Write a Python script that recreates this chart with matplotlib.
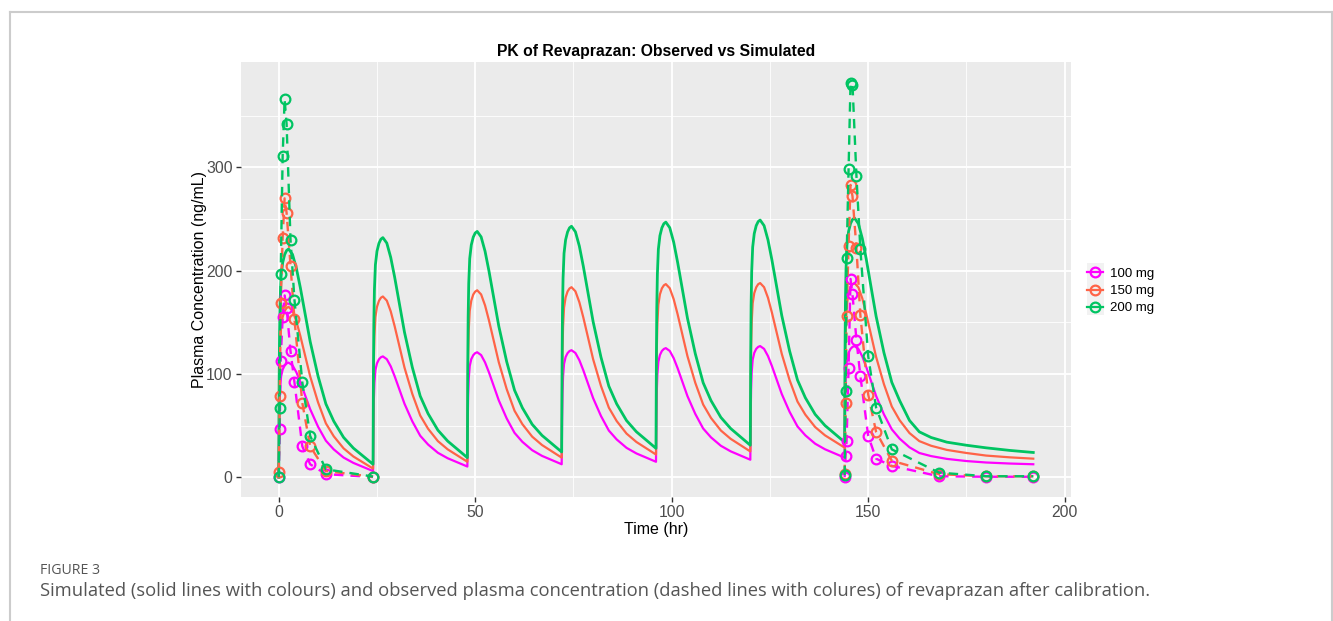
import numpy as np
import matplotlib
matplotlib.use("Agg")
import matplotlib.pyplot as plt
from matplotlib.lines import Line2D
from matplotlib.patches import Rectangle

# ---------- data ----------
doses = ["100 mg", "150 mg", "200 mg"]
colors = ["#FF00FF", "#FF6347", "#00C462"]

# simulated concentration (ng/mL): one dose every 24 h, sampled at these
# hours after each dose, plus the wash-out after the last dose
dose_times = [0, 24, 48, 72, 96, 120, 144]
t_after_dose = [0, 0.1, 0.2, 0.35, 0.6, 1, 1.5, 2, 2.5, 3.5, 4.5, 5.5,
                6.5, 8, 10, 12, 14, 16.5, 19, 22]
t_washout = [170, 175, 180, 186, 192]
t_sim = [d + o for d in dose_times for o in t_after_dose] + t_washout

sim_100 = [0, 44.4, 68.8, 85.5, 97.7, 104.3, 108.2, 110.2, 111,
           108.4, 101.6, 92.1, 81.6, 65.9, 49, 35.4, 27, 19.1, 13.9, 9.2,
           6, 50.4, 74.8, 91.5, 103.7, 110.3, 114.2, 116.2, 117,
           114.3, 107.4, 97.8, 87.2, 71.2, 54.1, 40.2, 31.7, 23.7, 18.4, 13.6,
           10.4, 54.6, 79, 95.6, 107.7, 114.4, 118.2, 120.2, 121,
           118.3, 111.2, 101.5, 90.6, 74.4, 57, 43, 34.3, 26.2, 20.7, 15.9,
           12.6, 56.8, 81, 97.6, 109.8, 116.4, 120.2, 122.2, 123,
           120.3, 113.3, 103.6, 92.8, 76.6, 59.3, 45.2, 36.6, 28.5, 23.1, 18.2,
           15, 59, 83.2, 99.7, 111.8, 118.4, 122.3, 124.2, 125,
           122.3, 115.3, 105.6, 94.8, 78.6, 61.3, 47.2, 38.6, 30.5, 25.1, 20.2,
           17, 61, 85.2, 101.7, 113.8, 120.4, 124.3, 126.2, 127,
           124.3, 117.3, 107.6, 96.8, 80.6, 63.3, 49.2, 40.6, 32.5, 27.1, 22.2,
           19, 62.2, 86, 102.2, 114, 120.5, 124.3, 126.2, 127,
           124.2, 116.9, 106.8, 95.6, 78.8, 60.9, 46.4, 37.4, 29, 23.5, 20.5,
           17.8, 15.7, 14.3, 13.3, 12.6]

sim_150 = [0, 66, 102.3, 127, 145.2, 155.1, 160.9, 163.8, 165,
           161.1, 150.9, 136.8, 121.2, 97.7, 72.6, 52.2, 39.7, 28, 20.1, 13.1,
           8.4, 75, 111.7, 136.7, 155, 165, 170.8, 173.8, 175,
           171, 160.6, 146.2, 130.2, 106.2, 80.6, 59.8, 47, 35, 27, 19.8,
           15, 81.4, 117.9, 142.8, 161.1, 171, 176.9, 179.8, 181,
           177, 166.4, 151.8, 135.6, 111.3, 85.4, 64.4, 51.4, 39.3, 31.2, 23.9,
           19, 85, 121.3, 146, 164.2, 174.1, 179.9, 182.8, 184,
           180, 169.4, 154.8, 138.6, 114.3, 88.4, 67.4, 54.4, 42.3, 34.2, 26.9,
           22, 88, 124.3, 149, 167.2, 177.1, 182.9, 185.8, 187,
           183, 172.4, 157.8, 141.6, 117.3, 91.4, 70.4, 57.4, 45.3, 37.2, 29.9,
           25, 90.2, 126.1, 150.5, 168.4, 178.2, 183.9, 186.9, 188,
           184, 173.7, 159.3, 143.4, 119.5, 94, 73.3, 60.6, 48.6, 40.6, 33.5,
           28.7, 92.4, 127.5, 151.4, 168.9, 178.4, 184, 186.9, 188,
           183.9, 173.1, 158.1, 141.5, 116.6, 90.1, 68.5, 55.2, 42.8, 35, 30.5,
           26.5, 23.5, 21, 19.3, 18]

sim_200 = [0, 88.4, 137, 170, 194.5, 207.7, 215.5, 219.5, 221,
           215.8, 202.2, 183.5, 162.6, 131.4, 98, 71, 54.3, 38.6, 28.2, 18.9,
           12.6, 100.4, 148.6, 181.5, 205.7, 218.8, 226.5, 230.5, 232,
           226.7, 212.8, 193.7, 172.4, 140.4, 106.3, 78.6, 61.6, 45.6, 35, 25.4,
           19, 106.6, 154.8, 187.6, 211.7, 224.9, 232.5, 236.5, 238,
           232.7, 218.8, 199.6, 178.2, 146.2, 112, 84.3, 67.2, 51.2, 40.5, 30.9,
           24.5, 111.9, 160, 192.7, 216.8, 229.9, 237.5, 241.5, 243,
           237.6, 223.7, 204.3, 182.8, 150.6, 116.2, 88.2, 71, 54.9, 44.1, 34.5,
           28, 115.6, 163.8, 196.6, 220.7, 233.9, 241.5, 245.5, 247,
           241.6, 227.6, 208.1, 186.5, 154.1, 119.6, 91.5, 74.2, 58, 47.2, 37.5,
           31, 118.2, 166.2, 198.9, 222.8, 235.9, 243.6, 247.5, 249,
           243.6, 229.7, 210.3, 188.8, 156.6, 122.2, 94.2, 77, 60.9, 50.1, 40.5,
           34, 120.8, 168.5, 201.1, 225, 238, 245.6, 249.5, 251,
           245.5, 231.1, 211.2, 189.1, 156, 120.6, 91.9, 74.2, 55, 44, 38.5,
           34, 31, 28.5, 26, 24]

# observed concentration, day 1 and day 7
t_obs_d1 = [0, 0.25, 0.5, 1, 1.5, 2, 3, 4, 6, 8, 12, 24]
obs_100_d1 = [0, 47, 113, 155, 176, 164, 122, 92, 30, 12.6, 3, 0.3]
obs_150_d1 = [5, 78.7, 169, 232, 270, 256, 205, 153, 72, 30, 6, 0.5]
obs_200_d1 = [0, 67.5, 197, 311, 366, 342, 230, 172, 92, 40, 7.7, 0.7]

t_obs_d7 = [144, 144.25, 144.5, 145, 145.5, 146, 147, 148, 150, 152, 156, 168, 180, 192]
obs_100_d7 = [0, 20.6, 35, 106, 192, 177, 133, 98, 40, 18, 11, 1, 0.5, 0.5]
obs_150_d7 = [3, 72, 156, 224, 283, 272, 222, 157, 80, 44, 16, 3, 1, 1]
obs_200_d7 = [2, 83.6, 212, 298, 382, 380, 292, 221, 117, 67.5, 27, 4.5, 1, 1]

sims = [sim_100, sim_150, sim_200]
obs_d1 = [obs_100_d1, obs_150_d1, obs_200_d1]
obs_d7 = [obs_100_d7, obs_150_d7, obs_200_d7]

# ---------- figure ----------
plt.rcParams['font.family'] = ['Liberation Sans', 'DejaVu Sans']
W, H = 1333, 621
fig = plt.figure(figsize=(W / 100, H / 100), dpi=100)
fig.patch.set_facecolor('white')

# page frame around the figure
frame_kw = dict(color='#CCCCCC', lw=1.5, transform=fig.transFigure)
fig.add_artist(Line2D([9.5 / W, 9.5 / W], [0, 1 - 12 / H], **frame_kw))
fig.add_artist(Line2D([9.5 / W, 1331.5 / W], [1 - 12 / H, 1 - 12 / H], **frame_kw))
fig.add_artist(Line2D([1331.5 / W, 1331.5 / W], [0, 1 - 12 / H], **frame_kw))

ax = fig.add_axes([241 / W, 1 - 497 / H, (1071 - 241) / W, (497 - 62) / H])
ax.set_facecolor('#EBEBEB')
for s in ax.spines.values():
    s.set_visible(False)

ax.set_xlim(-9.6, 201.6)
ax.set_ylim(-19.1, 402)
ax.set_xticks([0, 50, 100, 150, 200])
ax.set_yticks([0, 100, 200, 300])
ax.set_xticks([25, 75, 125, 175], minor=True)
ax.set_yticks([50, 150, 250, 350], minor=True)
ax.grid(True, which='major', color='white', lw=1.3)
ax.grid(True, which='minor', color='white', lw=0.6)
ax.set_axisbelow(True)
ax.tick_params(which='major', length=3.5, width=1, color='#333333',
               labelsize=11.3, labelcolor='#4D4D4D', pad=2.5)
ax.tick_params(which='minor', length=0)

for c, sv in zip(colors, sims):
    ax.plot(t_sim, sv, color=c, lw=1.6 if c != colors[2] else 2.0,
            solid_joinstyle='round')

for c, o1, o7 in zip(colors, obs_d1, obs_d7):
    for tt, oo in ((t_obs_d1, o1), (t_obs_d7, o7)):
        ax.plot(tt, oo, color=c, lw=1.7, dashes=(4, 3))
        ax.plot(tt, oo, 'o', ms=7, mfc='none', mec=c, mew=1.6)

ax.set_title('PK of Revaprazan: Observed vs Simulated', fontsize=11.3,
             fontweight='bold', pad=4)
ax.set_xlabel('Time (hr)', fontsize=11.5, labelpad=1.5)
ax.set_ylabel('Plasma Concentration (ng/mL)', fontsize=11.5, labelpad=-1)

# legend
fig.add_artist(Rectangle((1086.5 / W, 1 - 315 / H), 17 / W, 52 / H,
                         transform=fig.transFigure, color='#F2F2F2', lw=0))
handles = [Line2D([], [], color=c, lw=1.6, marker='o', ms=7, mfc='none',
                  mec=c, mew=1.6) for c in colors]
fig.legend(handles, doses, loc='center left', bbox_to_anchor=(1082 / W, 1 - 291 / H),
           frameon=False, fontsize=9.5, handlelength=1.2, handletextpad=0.55,
           labelspacing=0.38, borderaxespad=0)

# caption
cap_kw = dict(family=['Open Sans', 'DejaVu Sans'], color='#555555')
fig.text(40 / W, 1 - 571 / H, 'FIGURE 3', fontsize=10.2, va='center', **cap_kw)
fig.text(40 / W, 1 - 591 / H,
         'Simulated (solid lines with colours) and observed plasma concentration '
         '(dashed lines with colures) of revaprazan after calibration.',
         fontsize=13.2, va='center', **cap_kw)

fig.savefig('out.png', dpi=100)
